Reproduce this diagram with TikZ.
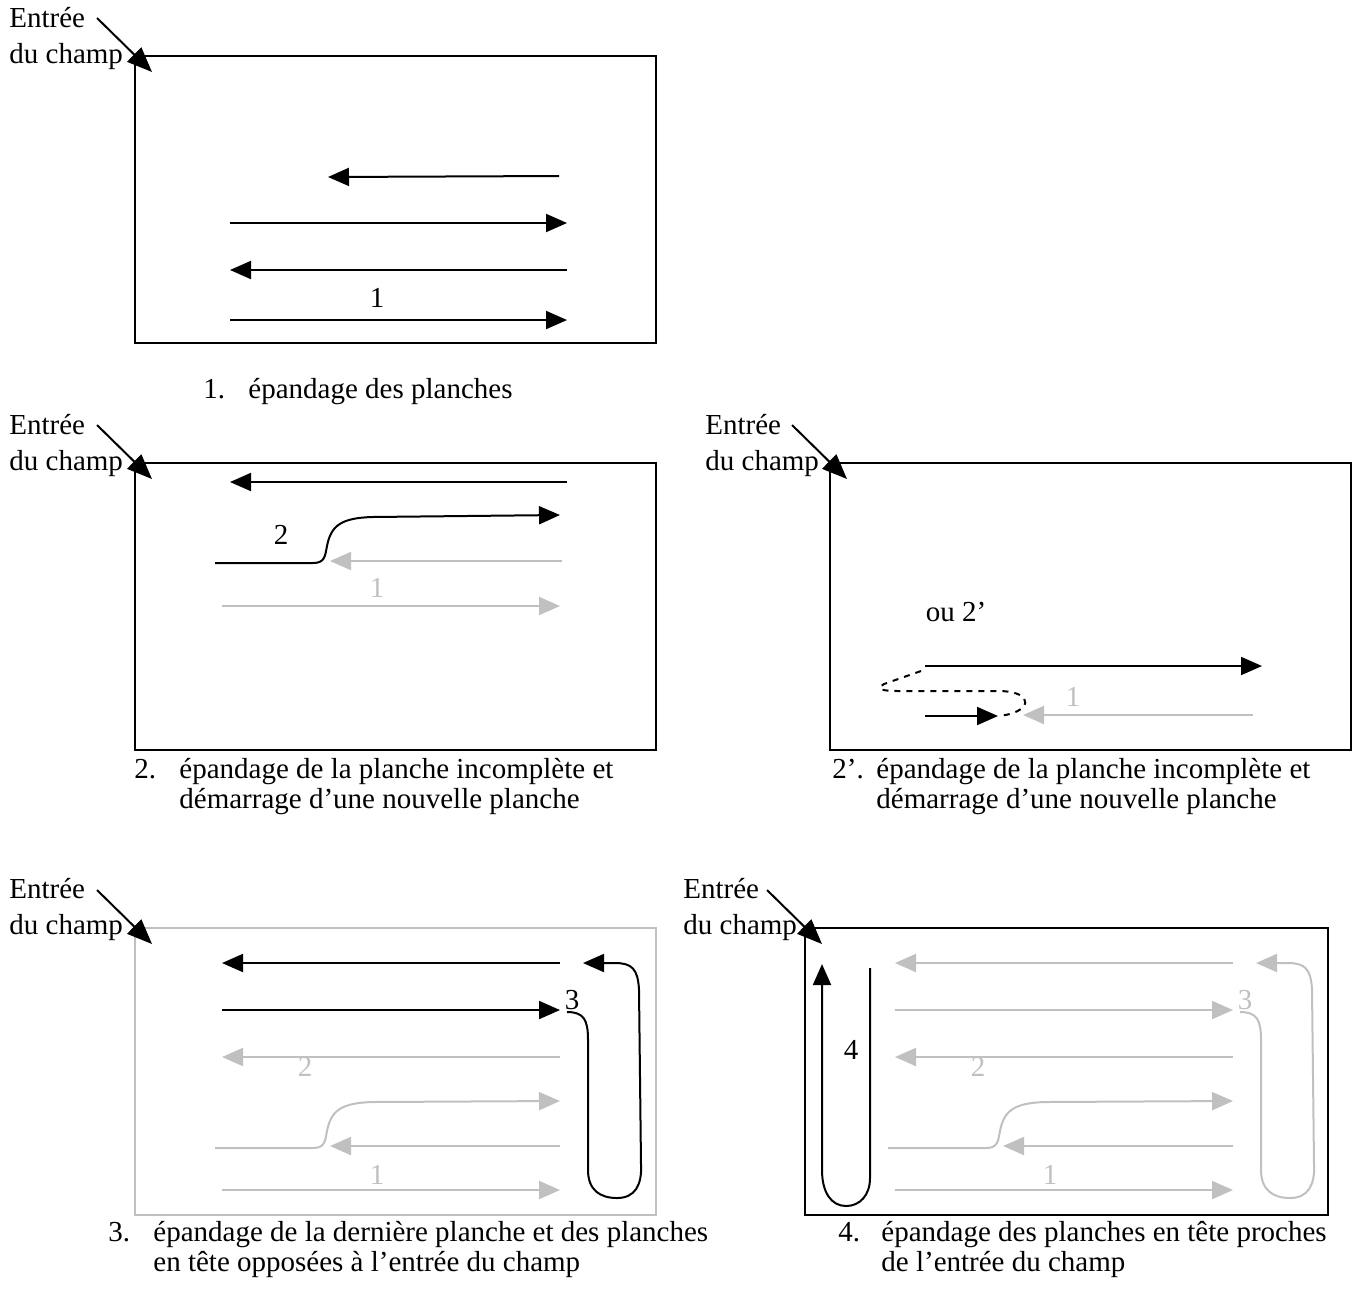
\documentclass[tikz,border=0pt]{standalone}
\usepackage{fontspec}
\setmainfont{Liberation Serif}
\usetikzlibrary{arrows.meta}
\definecolor{gris}{RGB}{192,192,192}

\begin{document}
\begin{tikzpicture}[x=0.5pt,y=-0.5pt,
    texte/.style={font=\fontsize{14.5}{15}\selectfont, inner sep=0pt},
    entree/.style={anchor=base west, align=left, inner sep=0pt, font=\fontsize{14.5}{18}\selectfont},
    legende/.style={texte, anchor=base west, align=left},
    fleche/.style={line width=1pt, -{Triangle[length=10.5pt,width=9pt]}},
    acces/.style={line width=1pt, -{Triangle[length=12.5pt,width=10pt]}},
    cadre/.style={line width=1pt}]
\useasboundingbox (0,0) rectangle (1358,1308);

% Panel 1: epandage des planches
\draw[cadre] (135,56) rectangle (656,343);
\node[entree] (e1) at (9,63) {Entrée\\du champ};
\coordinate (d1) at (97,18);
\coordinate (f1) at (152,72);
\draw[acces] (d1) -- (f1);
\draw[fleche] (559,176) -- (328,177);
\draw[fleche] (230,223) -- (567,223);
\draw[fleche] (567,270) -- (230,270);
\draw[fleche] (230,320) -- (567,320);
\node[texte] (n1) at (377,298) {1};
\node[legende] (l1) at (203,398) {1.};
\node[legende] (t1) at (248,398) {épandage des planches};

% Panel 2: planche incomplete
\draw[cadre] (135,463) rectangle (656,750);
\node[entree] (e2) at (9,470) {Entrée\\du champ};
\coordinate (d2) at (97,425);
\coordinate (f2) at (152,479);
\draw[acces] (d2) -- (f2);
\draw[fleche] (567,482) -- (230,482);
\draw[fleche] (215,563) -- (313,563) .. controls (325,563) and (325,556) .. (327,546)
    .. controls (331,525) and (342,518) .. (372,517) -- (560,515);
\node[texte] (n2) at (281,535) {2};
\draw[fleche, gris] (562,561) -- (330,561);
\node[texte, text=gris] (n2b) at (377,588) {1};
\draw[fleche, gris] (222,606) -- (560,606);
\node[legende] (l2) at (134,778) {2.};
\node[legende] (t2) at (179,808) {épandage de la planche incomplète et\\démarrage d’une nouvelle planche};

% Panel 2': variante
\draw[cadre] (830,463) rectangle (1351,750);
\node[entree] (e2p) at (705,470) {Entrée\\du champ};
\coordinate (d2p) at (792,425);
\coordinate (f2p) at (847,479);
\draw[acces] (d2p) -- (f2p);
\node[texte] (ou) at (956,612) {ou 2’};
\draw[fleche] (925,666) -- (1262,666);
\draw[line width=1pt, dashed] (921,671) -- (884,684) .. controls (876,689) and (880,691) .. (900,691)
    -- (1000,691) .. controls (1036,692) and (1032,713) .. (998,716);
\draw[fleche] (925,716) -- (998,716);
\draw[fleche, gris] (1253,715) -- (1023,715);
\node[texte, text=gris] (n2p) at (1073,697) {1};
\node[legende] (l2p) at (832,778) {2’.};
\node[legende] (t2p) at (876,808) {épandage de la planche incomplète et\\démarrage d’une nouvelle planche};

% Panel 3: derniere planche et tetes opposees
\draw[cadre, gris] (135,928) rectangle (656,1215);
\node[entree] (e3) at (9,934) {Entrée\\du champ};
\coordinate (d3) at (97,890);
\coordinate (f3) at (152,944);
\draw[acces] (d3) -- (f3);
\draw[fleche] (560,963) -- (222,963);
\draw[fleche] (222,1010) -- (560,1010);
\draw[fleche] (567,1012) .. controls (584,1012) and (588,1020) .. (588,1040) -- (588,1170)
    .. controls (588,1190) and (600,1198) .. (617,1198) .. controls (635,1198) and (642,1185) .. (641,1165)
    -- (639,990) .. controls (638,969) and (632,963) .. (615,963) -- (583,963);
\node[texte] (n3) at (572,1000) {3};
\draw[fleche, gris] (560,1057) -- (222,1057);
\draw[fleche, gris] (215,1148) -- (313,1148) .. controls (325,1148) and (325,1141) .. (327,1131)
    .. controls (331,1110) and (342,1103) .. (372,1102) -- (560,1101);
\node[texte, text=gris] (n3b) at (305,1067) {2};
\draw[fleche, gris] (560,1146) -- (330,1146);
\node[texte, text=gris] (n3c) at (377,1175) {1};
\draw[fleche, gris] (222,1190) -- (560,1190);
\node[legende] (l3) at (108,1241) {3.};
\node[legende] (t3) at (153,1271) {épandage de la dernière planche et des planches\\en tête opposées à l’entrée du champ};

% Panel 4: tetes proches de l'entree
\draw[cadre] (805,928) rectangle (1328,1215);
\node[entree] (e4) at (683,934) {Entrée\\du champ};
\coordinate (d4) at (767,890);
\coordinate (f4) at (822,944);
\draw[acces] (d4) -- (f4);
\draw[fleche] (870,968) -- (870,1178) .. controls (870,1195) and (860,1206) .. (846,1206)
    .. controls (831,1206) and (822,1192) .. (822,1170) -- (822,964);
\node[texte] (n4) at (851,1050) {4};
\begin{scope}[xshift=336.5pt, gris]
\draw[fleche] (560,963) -- (222,963);
\draw[fleche] (222,1010) -- (560,1010);
\draw[fleche] (567,1012) .. controls (584,1012) and (588,1020) .. (588,1040) -- (588,1170)
    .. controls (588,1190) and (600,1198) .. (617,1198) .. controls (635,1198) and (642,1185) .. (641,1165)
    -- (639,990) .. controls (638,969) and (632,963) .. (615,963) -- (583,963);
\node[texte, text=gris] (n4a) at (572,1000) {3};
\draw[fleche] (560,1057) -- (222,1057);
\draw[fleche] (215,1148) -- (313,1148) .. controls (325,1148) and (325,1141) .. (327,1131)
    .. controls (331,1110) and (342,1103) .. (372,1102) -- (560,1101);
\node[texte, text=gris] (n4b) at (305,1067) {2};
\draw[fleche] (560,1146) -- (330,1146);
\node[texte, text=gris] (n4c) at (377,1175) {1};
\draw[fleche] (222,1190) -- (560,1190);
\end{scope}
\node[legende] (l4) at (838,1241) {4.};
\node[legende] (t4) at (881,1271) {épandage des planches en tête proches\\de l’entrée du champ};
\end{tikzpicture}
\end{document}
